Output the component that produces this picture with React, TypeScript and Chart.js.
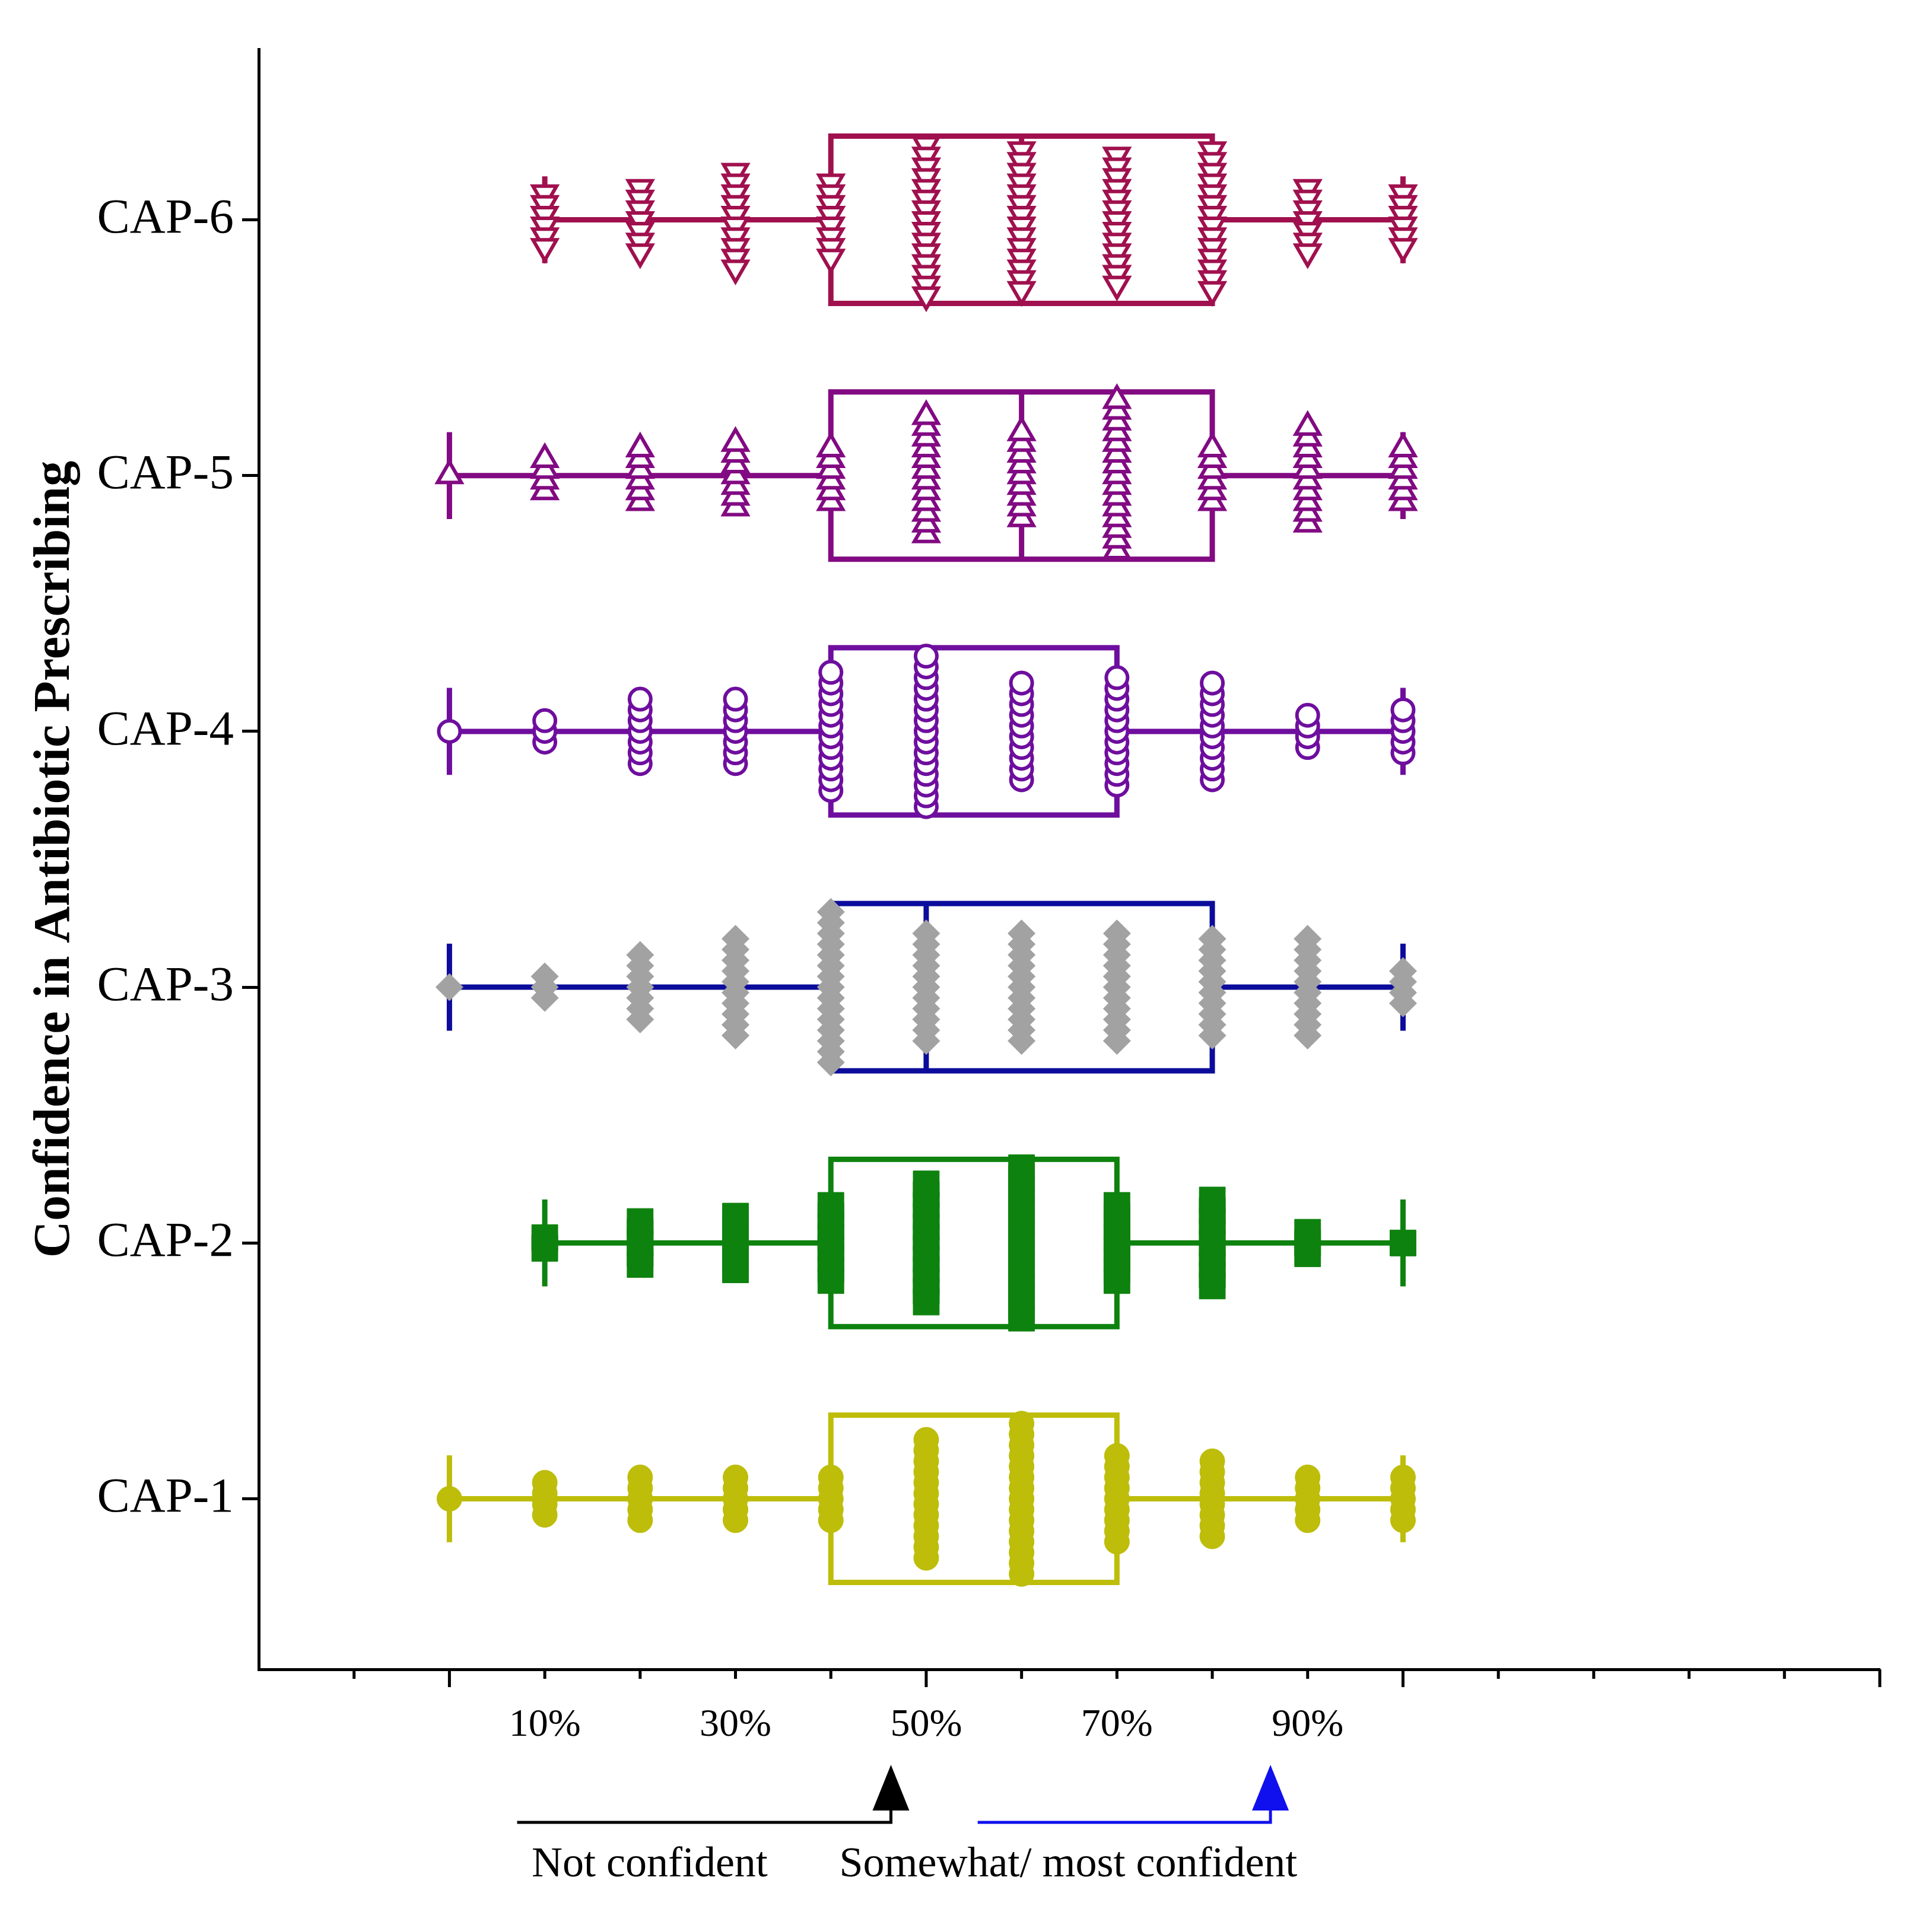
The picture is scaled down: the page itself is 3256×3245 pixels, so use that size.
import React, { useEffect, useRef } from 'react';
import { Chart, registerables } from 'chart.js';

Chart.register(...registerables);

// ---------------- data ----------------
const categories = ['CAP-1', 'CAP-2', 'CAP-3', 'CAP-4', 'CAP-5', 'CAP-6'];
const responseValues = [0, 10, 20, 30, 40, 50, 60, 70, 80, 90, 100];

// number of respondents at each response value (read from stack heights)
const cap1Counts = [1, 4, 5, 5, 5, 12, 15, 9, 8, 5, 5];
const cap2Counts = [0, 2, 5, 6, 8, 12, 15, 8, 9, 3, 1];
const cap3Counts = [1, 3, 7, 10, 15, 11, 11, 11, 10, 10, 4];
const cap4Counts = [1, 3, 7, 7, 12, 15, 10, 11, 10, 4, 5];
const cap5Counts = [1, 4, 6, 7, 6, 12, 9, 15, 6, 10, 6];
const cap6Counts = [0, 6, 7, 10, 8, 15, 14, 13, 14, 7, 6];
const countsByCategory = [cap1Counts, cap2Counts, cap3Counts, cap4Counts, cap5Counts, cap6Counts];

// box plot statistics (per category, CAP-1 .. CAP-6)
const whiskerLow = [0, 10, 0, 0, 0, 10];
const quartile1 = [40, 40, 40, 40, 40, 40];
const medians = [60, 60, 50, 50, 60, 60];
const quartile3 = [70, 70, 80, 70, 80, 80];
const whiskerHigh = [100, 100, 100, 100, 100, 100];

const xTickLabelValues = [10, 30, 50, 70, 90];
const axisTitle = 'Confidence in Antibiotic Prescribing';

// annotation below the x axis
const noteTexts = ['Not confident', 'Somewhat/ most confident'];
const noteLineFrom = [7.1, 55.4];
const noteArrowAt = [46.3, 86.1];
const noteTextAt = [21, 64.9];
const noteColors = ['#000000', '#1010EE'];

// ---------------- styling ----------------
const boxColors = ['#BDBD0A', '#0E820E', '#0C0C9C', '#6E0E9E', '#820A82', '#A0104E'];
const markerStyles = [
  { pointStyle: 'circle', radius: 21, rotation: 0, fill: '#BDBD0A', stroke: '#BDBD0A', border: 1, downward: false },
  { pointStyle: 'rect', radius: 31, rotation: 0, fill: '#0E820E', stroke: '#0E820E', border: 1, downward: false },
  { pointStyle: 'rectRot', radius: 23, rotation: 0, fill: '#A2A2A2', stroke: '#A2A2A2', border: 1, downward: false },
  { pointStyle: 'circle', radius: 18, rotation: 0, fill: '#FFFFFF', stroke: '#6E0E9E', border: 6, downward: false },
  { pointStyle: 'triangle', radius: 23, rotation: 0, fill: '#FFFFFF', stroke: '#820A82', border: 6, downward: false },
  { pointStyle: 'triangle', radius: 23, rotation: 180, fill: '#FFFFFF', stroke: '#A0104E', border: 6, downward: true },
];

const W = 3256;
const H = 3245;
const STACK_STEP = 0.042; // vertical spacing of stacked markers, in category units
const BOX_HALF = 0.327;
const CAP_HALF = 0.17;
const SERIF = '"Liberation Serif", "Times New Roman", serif';

function buildPoints(catIndex: number) {
  const counts = countsByCategory[catIndex];
  const down = markerStyles[catIndex].downward;
  const pts: { x: number; y: number }[] = [];
  responseValues.forEach((v, j) => {
    const n = counts[j];
    for (let i = 0; i < n; i++) {
      const k = down ? (n - 1) / 2 - i : i - (n - 1) / 2;
      pts.push({ x: v, y: catIndex + 1 + k * STACK_STEP });
    }
  });
  return pts;
}

const boxPlugin = {
  id: 'boxes',
  beforeDatasetsDraw(chart: any) {
    const { ctx } = chart;
    const xs = chart.scales.x;
    const ys = chart.scales.y;
    ctx.save();
    categories.forEach((_, i) => {
      const c = i + 1;
      const yc = ys.getPixelForValue(c);
      const yt = ys.getPixelForValue(c + BOX_HALF);
      const yb = ys.getPixelForValue(c - BOX_HALF);
      const ct = ys.getPixelForValue(c + CAP_HALF);
      const cb = ys.getPixelForValue(c - CAP_HALF);
      const xl = xs.getPixelForValue(whiskerLow[i]);
      const x1 = xs.getPixelForValue(quartile1[i]);
      const xm = xs.getPixelForValue(medians[i]);
      const x3 = xs.getPixelForValue(quartile3[i]);
      const xh = xs.getPixelForValue(whiskerHigh[i]);
      ctx.strokeStyle = boxColors[i];
      ctx.lineWidth = 9;
      ctx.lineCap = 'butt';
      ctx.beginPath();
      ctx.moveTo(xl, yc); ctx.lineTo(x1, yc);
      ctx.moveTo(x3, yc); ctx.lineTo(xh, yc);
      ctx.moveTo(xl, ct); ctx.lineTo(xl, cb);
      ctx.moveTo(xh, ct); ctx.lineTo(xh, cb);
      ctx.moveTo(xm, yt); ctx.lineTo(xm, yb);
      ctx.stroke();
      ctx.strokeRect(x1, yt, x3 - x1, yb - yt);
    });
    ctx.restore();
  },
};

const axisExtrasPlugin = {
  id: 'axisExtras',
  afterDraw(chart: any) {
    const { ctx, chartArea } = chart;
    const xs = chart.scales.x;
    const bottom = chartArea.bottom;
    ctx.save();
    // x tick marks: long at multiples of 50, short otherwise
    ctx.strokeStyle = '#000';
    ctx.lineWidth = 5;
    ctx.beginPath();
    xs.ticks.forEach((t: any) => {
      if (t.value <= xs.min) return;
      const px = xs.getPixelForValue(t.value);
      const len = t.value % 50 === 0 ? 28 : 14;
      ctx.moveTo(px, bottom);
      ctx.lineTo(px, bottom + 2 + len);
    });
    ctx.stroke();

    // annotation arrows and texts
    noteTexts.forEach((txt, k) => {
      const xf = xs.getPixelForValue(noteLineFrom[k]);
      const xa = xs.getPixelForValue(noteArrowAt[k]);
      const ly = bottom + 258;
      ctx.strokeStyle = noteColors[k];
      ctx.fillStyle = noteColors[k];
      ctx.lineWidth = 5;
      ctx.beginPath();
      ctx.moveTo(xf, ly);
      ctx.lineTo(xa, ly);
      ctx.lineTo(xa, bottom + 230);
      ctx.stroke();
      ctx.beginPath();
      ctx.moveTo(xa, bottom + 161);
      ctx.lineTo(xa - 31, bottom + 238);
      ctx.lineTo(xa + 31, bottom + 238);
      ctx.closePath();
      ctx.fill();
      ctx.fillStyle = '#000';
      ctx.font = `72px ${SERIF}`;
      ctx.textAlign = 'center';
      ctx.textBaseline = 'alphabetic';
      ctx.fillText(txt, xs.getPixelForValue(noteTextAt[k]), bottom + 349);
    });
    ctx.restore();
  },
};

export default function App() {
  const canvasRef = useRef<HTMLCanvasElement | null>(null);

  useEffect(() => {
    document.body.style.margin = '0';
    document.body.style.overflow = 'hidden';
    const canvas = canvasRef.current;
    if (!canvas) return;

    const datasets = categories.map((name, i) => {
      const st = markerStyles[i];
      return {
        label: name,
        data: buildPoints(i),
        pointStyle: st.pointStyle,
        pointRadius: st.radius,
        pointRotation: st.rotation,
        pointBackgroundColor: st.fill,
        pointBorderColor: st.stroke,
        pointBorderWidth: st.border,
        showLine: false,
        clip: false,
      };
    });

    const chart = new Chart(canvas, {
      type: 'scatter',
      data: { datasets } as any,
      plugins: [boxPlugin, axisExtrasPlugin],
      options: {
        responsive: false,
        maintainAspectRatio: false,
        animation: false,
        devicePixelRatio: 1,
        events: [],
        layout: { padding: { left: 0, right: 88, top: 83, bottom: 0 } },
        plugins: { legend: { display: false }, tooltip: { enabled: false } },
        scales: {
          x: {
            type: 'linear',
            min: -20,
            max: 150,
            afterFit: (s: any) => { s.height = H - 2814; },
            ticks: {
              stepSize: 10,
              autoSkip: false,
              maxRotation: 0,
              minRotation: 0,
              padding: 47,
              color: '#000',
              font: { family: SERIF, size: 66 },
              callback: (v: any) => (xTickLabelValues.includes(Number(v)) ? `${v}%` : ''),
            },
            grid: { display: false },
            border: { display: true, color: '#000', width: 5 },
          },
          y: {
            type: 'linear',
            min: 1 / 3,
            max: 20 / 3,
            afterFit: (s: any) => { s.width = 436; },
            afterBuildTicks: (s: any) => { s.ticks = categories.map((_, i) => ({ value: i + 1 })); },
            ticks: {
              autoSkip: false,
              padding: 14,
              color: '#000',
              font: { family: SERIF, size: 83 },
              callback: (v: any) => categories[Math.round(Number(v)) - 1] ?? '',
            },
            grid: {
              display: true,
              drawOnChartArea: false,
              drawTicks: true,
              tickLength: 28,
              tickWidth: 5,
              tickColor: '#000',
            },
            border: { display: true, color: '#000', width: 5 },
            title: {
              display: true,
              text: axisTitle,
              color: '#000',
              font: { family: SERIF, size: 86, weight: 'bold' },
              padding: { top: 42, bottom: 0 },
            },
          },
        },
      } as any,
    });

    return () => chart.destroy();
  }, []);

  return (
    <div style={{ width: W, height: H, background: '#fff' }}>
      <canvas ref={canvasRef} width={W} height={H} style={{ display: 'block', width: W, height: H }} />
    </div>
  );
}
